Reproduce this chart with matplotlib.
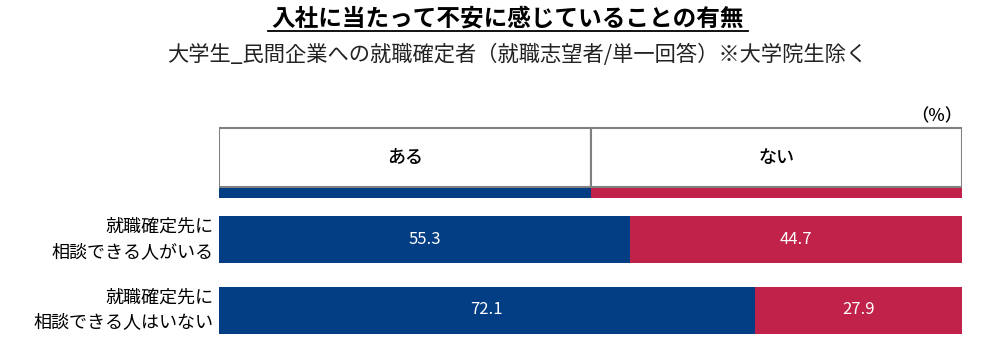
import numpy as np
import matplotlib.pyplot as plt
from matplotlib.patches import Rectangle

plt.rcParams['font.family'] = ['Noto Sans CJK JP', 'DejaVu Sans']

title = "入社に当たって不安に感じていることの有無"
subtitle = "大学生_民間企業への就職確定者（就職志望者/単一回答）※大学院生除く"
header = ["ある", "ない"]
labels = ["就職確定先に\n相談できる人がいる", "就職確定先に\n相談できる人はいない"]
aru = [55.3, 72.1]
nai = [44.7, 27.9]

blue = '#033D84'
red = '#C1224A'

fig = plt.figure(figsize=(10, 3.39), dpi=100)
# axes in pixel-like y coords: 100 (top) .. 339 (bottom)
ax = fig.add_axes([0.219, 0.0, 0.743, 239/339])
ax.set_xlim(0, 100)
ax.set_ylim(339, 100)
ax.axis('off')

# header box
for i, h in enumerate(header):
    ax.add_patch(Rectangle((i*50, 128), 50, 59, facecolor='white', edgecolor='#808080', lw=1.5))
    ax.text(i*50 + 25, 157.5, h, ha='center', va='center', fontsize=13, fontweight='medium')
ax.barh(193, 50, height=10, color=blue)
ax.barh(193, 50, left=50, height=10, color=red)
ax.text(100, 116, "（%）", ha='right', va='center', fontsize=12.5, fontweight='medium')

ys = [239.5, 310]
ax.barh(ys, aru, height=47, color=blue)
ax.barh(ys, nai, left=aru, height=47, color=red)
for y, a, n, lab in zip(ys, aru, nai, labels):
    ax.text(a/2, y, f"{a:.1f}", ha='center', va='center', color='white', fontsize=12)
    ax.text(a + n/2, y, f"{n:.1f}", ha='center', va='center', color='white', fontsize=12)
    ax.text(-0.8, y, lab, ha='right', va='center', fontsize=13, linespacing=1.5)

fig.text(0.508, 1 - 18/339, title, ha='center', va='center', fontsize=17, fontweight='bold')
fig.add_artist(plt.Line2D([0.268, 0.748], [1 - 31/339, 1 - 31/339], color='black', lw=1.3))
fig.text(0.517, 1 - 55/339, subtitle, ha='center', va='center', fontsize=15.3, color='#222222')

fig.savefig('out.png', dpi=100)
